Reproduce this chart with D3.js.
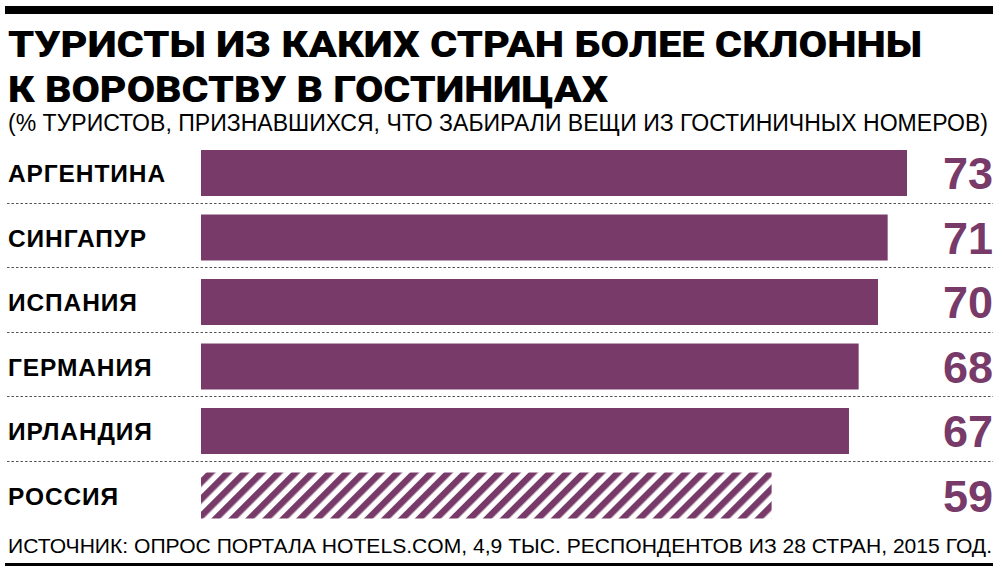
<!DOCTYPE html>
<html><head><meta charset="utf-8">
<script src="https://cdn.jsdelivr.net/npm/d3@7/dist/d3.min.js"></script>
<style>body{margin:0;background:#fff}svg{display:block}</style>
</head><body>
<script>
const categories = ["АРГЕНТИНА","СИНГАПУР","ИСПАНИЯ","ГЕРМАНИЯ","ИРЛАНДИЯ","РОССИЯ"];
const values = [73,71,70,68,67,59];
const titleLines = ["ТУРИСТЫ ИЗ КАКИХ СТРАН БОЛЕЕ СКЛОННЫ","К ВОРОВСТВУ В ГОСТИНИЦАХ"];
const subtitle = "(% ТУРИСТОВ, ПРИЗНАВШИХСЯ, ЧТО ЗАБИРАЛИ ВЕЩИ ИЗ ГОСТИНИЧНЫХ НОМЕРОВ)";
const source = "ИСТОЧНИК: ОПРОС ПОРТАЛА HOTELS.COM, 4,9 ТЫС. РЕСПОНДЕНТОВ ИЗ 28 СТРАН, 2015 ГОД.";
const highlighted = "РОССИЯ";

const W = 1000, H = 574;
const purple = "#773a69";
const svg = d3.select("body").append("svg").attr("width", W).attr("height", H);

const defs = svg.append("defs");
const pat = defs.append("pattern").attr("id","hatch").attr("patternUnits","userSpaceOnUse")
  .attr("width",12).attr("height",12).attr("patternTransform","rotate(45)");
pat.append("rect").attr("x",0).attr("y",0).attr("width",6.5).attr("height",12).attr("fill",purple);

// top rule
svg.append("rect").attr("x",5).attr("y",6).attr("width",988).attr("height",8).attr("fill","#000");

// title
const titleW = [914, 600];
titleLines.forEach((t,i)=>{
  svg.append("text").attr("x",8).attr("y",57+i*45)
    .attr("font-family","Roboto, 'Liberation Sans', sans-serif").attr("font-weight",900)
    .attr("font-size",37).attr("fill","#000")
    .attr("textLength",titleW[i]).attr("lengthAdjust","spacingAndGlyphs").text(t);
});
svg.append("text").attr("x",8).attr("y",131)
  .attr("font-family","'Liberation Sans', Arial, sans-serif").attr("font-size",23).attr("fill","#000")
  .attr("textLength",980).attr("lengthAdjust","spacingAndGlyphs").text(subtitle);

const x = d3.scaleLinear().domain([0,73]).range([201,907]);
const y = d3.scaleBand().domain(categories).range([140.75,527.75]).paddingInner(0.287).paddingOuter(0.1435);

const rows = svg.append("g").selectAll("g").data(categories).join("g");
rows.append("rect")
  .attr("x", x(0)).attr("y", d=>y(d))
  .attr("width", (d,i)=>x(values[i])-x(0)).attr("height", y.bandwidth())
  .attr("fill", d=> d===highlighted ? "url(#hatch)" : purple);

rows.append("text").attr("x",8).attr("y",d=>y(d)+y.bandwidth()/2+9)
  .attr("font-family","'Liberation Sans', Arial, sans-serif").attr("font-weight",700)
  .attr("font-size",24.5).attr("letter-spacing",0.9).attr("fill","#000").text(d=>d);

rows.append("text").attr("x",993).attr("y",d=>y(d)+y.bandwidth()/2+16)
  .attr("text-anchor","end")
  .attr("font-family","'Liberation Sans', Arial, sans-serif").attr("font-weight",700)
  .attr("font-size",45).attr("fill",purple).text((d,i)=>values[i]);

// separators
svg.append("g").selectAll("line").data(categories.slice(0,-1)).join("line")
  .attr("x1",7).attr("x2",993)
  .attr("y1",d=>Math.round(y(d)+y.bandwidth()+7)+0.5).attr("y2",d=>Math.round(y(d)+y.bandwidth()+7)+0.5)
  .attr("stroke","#555").attr("stroke-width",1).attr("stroke-dasharray","2.5,2");

svg.append("text").attr("x",8).attr("y",553)
  .attr("font-family","'Liberation Sans', Arial, sans-serif").attr("font-size",21).attr("fill","#000")
  .attr("textLength",984).attr("lengthAdjust","spacingAndGlyphs").text(source);

svg.append("rect").attr("x",5).attr("y",563).attr("width",988).attr("height",3).attr("fill","#000");
</script>
</body></html>
